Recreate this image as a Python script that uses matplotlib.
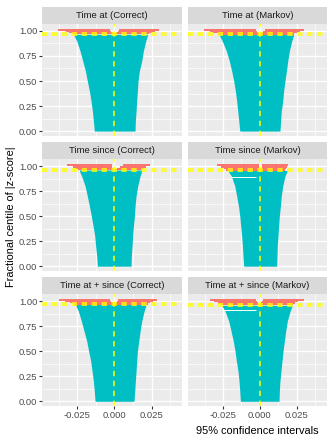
import matplotlib
matplotlib.use("Agg")
import matplotlib.pyplot as plt

plt.rcParams['font.family'] = ['Liberation Sans', 'DejaVu Sans']

titles = ["Time at (Correct)", "Time at (Markov)",
          "Time since (Correct)", "Time since (Markov)",
          "Time at + since (Correct)", "Time at + since (Markov)"]

# intervals that cover the true value (cyan), edges read at these centiles
cyan_y = [0.0, 0.1, 0.2, 0.3, 0.4, 0.5, 0.6, 0.7, 0.8, 0.9, 0.95]
cyan_left = [
    [-0.0135, -0.0141, -0.0148, -0.0157, -0.0168, -0.0182, -0.0195, -0.0213, -0.0231, -0.0253, -0.0271],
    [-0.0136, -0.0143, -0.0150, -0.0157, -0.0166, -0.0177, -0.0191, -0.0207, -0.0227, -0.0255, -0.0273],
    [-0.0114, -0.0119, -0.0126, -0.0132, -0.0143, -0.0155, -0.0168, -0.0182, -0.0197, -0.0220, -0.0235],
    [-0.0109, -0.0114, -0.0118, -0.0123, -0.0130, -0.0136, -0.0145, -0.0157, -0.0170, -0.0193, -0.0216],
    [-0.0130, -0.0135, -0.0141, -0.0150, -0.0159, -0.0173, -0.0186, -0.0204, -0.0222, -0.0242, -0.0258],
    [-0.0132, -0.0136, -0.0141, -0.0148, -0.0159, -0.0168, -0.0180, -0.0195, -0.0211, -0.0236, -0.0255],
]
cyan_right = [
    [0.0139, 0.0141, 0.0146, 0.0150, 0.0155, 0.0159, 0.0168, 0.0184, 0.0195, 0.0211, 0.0222],
    [0.0136, 0.0141, 0.0145, 0.0155, 0.0161, 0.0170, 0.0180, 0.0189, 0.0200, 0.0216, 0.0227],
    [0.0112, 0.0114, 0.0119, 0.0123, 0.0128, 0.0135, 0.0139, 0.0146, 0.0157, 0.0173, 0.0184],
    [0.0114, 0.0116, 0.0118, 0.0123, 0.0127, 0.0132, 0.0139, 0.0145, 0.0155, 0.0170, 0.0186],
    [0.0132, 0.0137, 0.0141, 0.0146, 0.0150, 0.0155, 0.0164, 0.0173, 0.0184, 0.0200, 0.0211],
    [0.0130, 0.0132, 0.0136, 0.0143, 0.0150, 0.0157, 0.0166, 0.0175, 0.0186, 0.0205, 0.0218],
]

# non-covering intervals (red); first centile = where coverage ends
red_y = [
    [0.966, 0.978, 0.990, 1.003, 1.018],
    [0.964, 0.977, 0.990, 1.003, 1.018],
    [0.960, 0.972, 0.985, 0.999, 1.016],
    [0.955, 0.970, 0.985, 0.999, 1.018],
    [0.966, 0.978, 0.990, 1.003, 1.018],
    [0.958, 0.973, 0.988, 1.002, 1.020],
]
red_left_out = [
    [-0.0288, -0.0305, -0.0325, -0.0380, -0.0380],
    [-0.0284, -0.0318, -0.0340, -0.0381, -0.0381],
    [-0.0245, -0.0262, -0.0280, -0.0316, -0.0316],
    [-0.0227, -0.0245, -0.0265, -0.0290, -0.0290],
    [-0.0270, -0.0298, -0.0331, -0.0372, -0.0372],
    [-0.0260, -0.0285, -0.0311, -0.0340, -0.0340],
]
red_left_in = [
    [-0.0003, -0.0010, -0.0020, -0.0029, -0.0029],
    [-0.0003, -0.0010, -0.0018, -0.0027, -0.0027],
    [-0.0003, -0.0008, -0.0013, -0.0018, -0.0018],
    [-0.0002, -0.0004, -0.0006, -0.0008, -0.0008],
    [-0.0003, -0.0010, -0.0020, -0.0029, -0.0029],
    [-0.0003, -0.0010, -0.0017, -0.0023, -0.0023],
]
red_right_in = [
    [0.0003, 0.0012, 0.0022, 0.0032, 0.0032],
    [0.0003, 0.0013, 0.0024, 0.0034, 0.0034],
    [0.0004, 0.0015, 0.0035, 0.0060, 0.0060],
    [0.0003, 0.0008, 0.0012, 0.0016, 0.0016],
    [0.0003, 0.0010, 0.0018, 0.0027, 0.0027],
    [0.0003, 0.0010, 0.0017, 0.0023, 0.0023],
]
red_right_out = [
    [0.0235, 0.0250, 0.0273, 0.0300, 0.0300],
    [0.0234, 0.0250, 0.0272, 0.0300, 0.0300],
    [0.0188, 0.0198, 0.0215, 0.0240, 0.0240],
    [0.0172, 0.0178, 0.0183, 0.0189, 0.0189],
    [0.0229, 0.0240, 0.0262, 0.0285, 0.0285],
    [0.0227, 0.0240, 0.0260, 0.0300, 0.0300],
]

# Monte Carlo interval for coverage
mc_lo = [0.958, 0.956, 0.951, 0.947, 0.960, 0.948]
mc_hi = [0.980, 0.979, 0.975, 0.967, 0.981, 0.970]

# thin gaps in two panels (centile, from, to)
gap_y = [None, None, None, 0.895, None, 0.910]
gap_x0 = [None, None, None, -0.0195, None, -0.0240]
gap_x1 = [None, None, None, -0.0023, None, -0.0029]

xticks = [-0.025, 0.0, 0.025]
xlabels = ["-0.025", "0.000", "0.025"]
yticks = [0.0, 0.25, 0.5, 0.75, 1.0]
ylabels = ["0.00", "0.25", "0.50", "0.75", "1.00"]

W, H = 331, 440
fig = plt.figure(figsize=(W / 100, H / 100), dpi=100)

col_x = [(42, 182), (188, 327)]
row_y = [(23.6, 136.1), (158.7, 271.2), (293.8, 406.3)]
strip_h = 16.6

for i in range(6):
    r, c = i // 2, i % 2
    x0, x1 = col_x[c]
    y0, y1 = row_y[r]
    ax = fig.add_axes([x0 / W, 1 - y1 / H, (x1 - x0) / W, (y1 - y0) / H])
    ax.set_facecolor('#EBEBEB')
    for s in ax.spines.values():
        s.set_visible(False)
    ax.set_xlim(-0.0487, 0.0455)
    ax.set_ylim(-0.05, 1.073)
    ax.set_xticks(xticks)
    ax.set_yticks(yticks)
    ax.set_xticks([-0.0375, -0.0125, 0.0125, 0.0375], minor=True)
    ax.set_yticks([0.125, 0.375, 0.625, 0.875], minor=True)
    ax.grid(True, which='major', color='white', lw=1.0)
    ax.grid(True, which='minor', color='white', lw=0.5)
    ax.set_axisbelow(True)
    ax.tick_params(which='minor', length=0)
    ax.tick_params(which='major', colors='#333333', labelcolor='#4D4D4D',
                   labelsize=6.8, length=2.2, width=0.8, pad=1.2)
    if r == 2:
        ax.set_xticklabels(xlabels)
    else:
        ax.set_xticklabels([])
        ax.tick_params(axis='x', length=0)
    if c == 0:
        ax.set_yticklabels(ylabels)
    else:
        ax.set_yticklabels([])
        ax.tick_params(axis='y', length=0)

    cov = red_y[i][0]
    ax.fill_betweenx(cyan_y + [cov], cyan_left[i] + [cyan_left[i][-1]],
                     cyan_right[i] + [cyan_right[i][-1]], color='#00BFC4', lw=0)
    ax.fill_betweenx(red_y[i], red_left_out[i], red_left_in[i], step='post',
                     color='#F8766D', lw=0)
    ax.fill_betweenx(red_y[i], red_right_in[i], red_right_out[i], step='post',
                     color='#F8766D', lw=0)
    if gap_y[i] is not None:
        ax.hlines(gap_y[i], gap_x0[i], gap_x1[i], color='white', lw=0.7)

    ax.axvline(0, color='#FFFF00', lw=1.1, dashes=(3.5, 3))
    ax.axhline(mc_lo[i], color='#FFFF00', lw=1.1, dashes=(3.5, 3))
    ax.axhline(mc_hi[i], color='#FFFF00', lw=1.1, dashes=(3.5, 3))

    sax = fig.add_axes([x0 / W, 1 - y0 / H, (x1 - x0) / W, strip_h / H])
    sax.set_facecolor('#D9D9D9')
    sax.set_xticks([])
    sax.set_yticks([])
    for s in sax.spines.values():
        s.set_visible(False)
    sax.text(0.5, 0.5, titles[i], ha='center', va='center', fontsize=6.8,
             color='#1A1A1A', transform=sax.transAxes)

fig.text(11 / W, 1 - 216.7 / H, "Fractional centile of |z-score|", rotation=90,
         ha='center', va='center', fontsize=7.9, color='black')
fig.text(257 / W, 1 - 431 / H, "95% confidence intervals",
         ha='center', va='center', fontsize=7.9, color='black')

fig.savefig("out.png", dpi=100)
